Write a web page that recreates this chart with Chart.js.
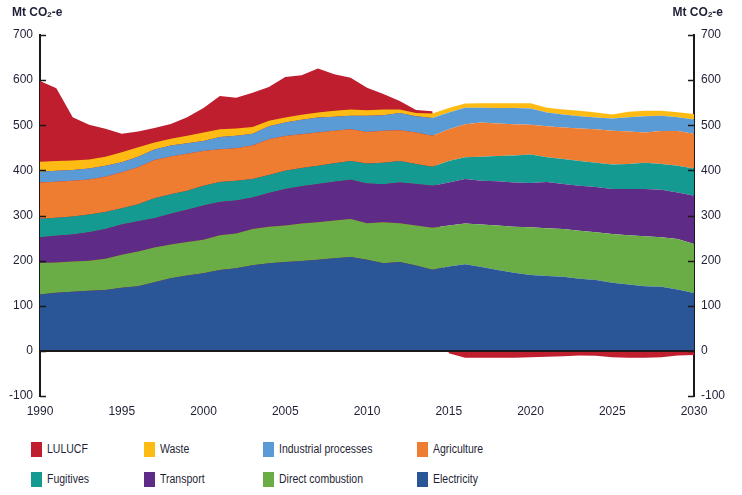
<!DOCTYPE html>
<html>
<head>
<meta charset="utf-8">
<script src="https://cdn.jsdelivr.net/npm/chart.js@4.4.1/dist/chart.umd.min.js"></script>
<style>
  html, body { margin: 0; padding: 0; background: #fff; }
  #wrap { position: relative; width: 742px; height: 495px; color: #1f1f36; font-family: 'Liberation Sans', Arial, sans-serif; }
  #chart-box { position: absolute; left: 0; top: 0; width: 742px; height: 425px; }
  .unit { position: absolute; top: 5px; font-weight: bold; font-size: 12px; white-space: nowrap; }
  .unit sub { font-size: 8px; vertical-align: -1px; }
  .legend-item { position: absolute; height: 15px; line-height: 15px; font-size: 12.5px; white-space: nowrap; }
  .legend-color-box { display: inline-block; width: 11px; height: 15px; vertical-align: top; margin-right: 5px; }
  .legend-text { display: inline-block; vertical-align: top; transform: scaleX(0.84); transform-origin: left center; }
</style>
</head>
<body>
<div id="wrap">
  <div id="chart-box"><canvas id="emissions-chart"></canvas></div>
  <div class="unit" style="left:12px;">Mt CO<sub>2</sub>-e</div>
  <div class="unit" style="right:19px;">Mt CO<sub>2</sub>-e</div>
  <div id="legend"></div>
</div>
<script>
// --- DATA ---
const years = [1990, 1991, 1992, 1993, 1994, 1995, 1996, 1997, 1998, 1999, 2000,
  2001, 2002, 2003, 2004, 2005, 2006, 2007, 2008, 2009, 2010,
  2011, 2012, 2013, 2014, 2015, 2016, 2017, 2018, 2019, 2020,
  2021, 2022, 2023, 2024, 2025, 2026, 2027, 2028, 2029, 2030];

const electricity = [125, 129, 131, 133, 135, 140, 143, 152, 161, 167, 172,
  179, 183, 190, 194, 197, 199, 202, 205, 208, 202,
  194, 197, 189, 180, 187, 192, 186, 179, 173, 168,
  166, 164, 160, 157, 151, 147, 143, 142, 136, 128];
const directCombustion = [70, 67, 67, 67, 69, 73, 77, 77, 75, 74, 74,
  77, 77, 80, 81, 81, 83, 83, 84, 84, 81,
  91, 86, 89, 93, 91, 90, 94, 99, 102, 106,
  106, 106, 106, 106, 108, 109, 111, 110, 112, 109];
const transport = [57, 59, 60, 63, 66, 67, 67, 65, 68, 72, 76,
  74, 73, 70, 75, 81, 83, 85, 86, 87, 88,
  84, 90, 92, 93, 95, 99, 97, 98, 98, 98,
  102, 100, 100, 100, 100, 103, 105, 105, 103, 107];
const fugitives = [41, 40, 40, 39, 38, 36, 38, 44, 43, 42, 44,
  44, 44, 41, 40, 40, 40, 40, 41, 42, 44,
  48, 48, 44, 42, 48, 48, 53, 56, 60, 63,
  55, 55, 55, 54, 54, 55, 58, 57, 59, 60];
const agriculture = [80, 80, 79, 78, 78, 80, 82, 85, 84, 82, 77,
  73, 72, 74, 79, 77, 75, 74, 72, 70, 70,
  71, 68, 70, 69, 70, 73, 76, 72, 69, 66,
  69, 70, 72, 74, 75, 72, 67, 73, 77, 77];
const industrial = [24, 24, 24, 24, 24, 22, 23, 23, 24, 23, 22,
  27, 28, 26, 29, 30, 32, 33, 31, 30, 36,
  34, 38, 36, 39, 37, 37, 33, 34, 36, 36,
  30, 29, 27, 26, 27, 32, 36, 34, 31, 32];
const waste = [22, 22, 21, 20, 20, 22, 21, 16, 15, 17, 19,
  17, 16, 15, 12, 11, 11, 11, 13, 14, 12,
  13, 8, 7, 10, 10, 9, 10, 11, 11, 12,
  11, 11, 12, 11, 9, 12, 12, 11, 11, 12];
const lulucf = [179, 161, 96, 77, 62, 41, 35, 32, 33, 41, 54,
  74, 68, 76, 75, 90, 88, 98, 81, 70, 50,
  34, 19, 7, 5, -5, -15, -15, -15, -15, -14,
  -13, -12, -10, -11, -14, -15, -15, -14, -10, -9];

const yTicks = [-100, 0, 100, 200, 300, 400, 500, 600, 700];

// bottom of stack first
const series = [
  { label: 'Electricity', data: electricity, color: '#2a5597' },
  { label: 'Direct combustion', data: directCombustion, color: '#6aad46' },
  { label: 'Transport', data: transport, color: '#5e2b86' },
  { label: 'Fugitives', data: fugitives, color: '#159a92' },
  { label: 'Agriculture', data: agriculture, color: '#ee7d31' },
  { label: 'Industrial processes', data: industrial, color: '#5b9bd5' },
  { label: 'Waste', data: waste, color: '#fdbb14' },
  { label: 'LULUCF', data: lulucf, color: '#be1e2d' }
];

const tickFont = { family: "'Liberation Sans', Arial, sans-serif", size: 12 };
const tickColor = '#1f1f36';

// inside tick marks + zero line
const axisMarks = {
  id: 'axisMarks',
  afterDraw(chart) {
    const { ctx, chartArea, scales } = chart;
    const y = scales.y;
    ctx.save();
    ctx.strokeStyle = '#1a1a1a';
    ctx.lineWidth = 2;
    const y0 = Math.round(y.getPixelForValue(0));
    ctx.beginPath();
    ctx.moveTo(chartArea.left, y0);
    ctx.lineTo(chartArea.right, y0);
    ctx.stroke();
    ctx.lineWidth = 1.5;
    yTicks.forEach(v => {
      const py = Math.round(y.getPixelForValue(v)) + 0.5;
      ctx.beginPath();
      ctx.moveTo(chartArea.left, py);
      ctx.lineTo(chartArea.left + 6, py);
      ctx.moveTo(chartArea.right - 6, py);
      ctx.lineTo(chartArea.right, py);
      ctx.stroke();
    });
    ctx.restore();
  }
};

const yAxisBase = {
  min: -100,
  max: 700,
  grid: { display: false, drawTicks: false },
  border: { display: true, color: '#1a1a1a', width: 2 },
  ticks: { stepSize: 100, color: tickColor, font: tickFont, padding: 7 }
};

const ctx = document.getElementById('emissions-chart').getContext('2d');
new Chart(ctx, {
  type: 'line',
  data: {
    labels: years,
    datasets: series.map((s, i) => ({
      label: s.label,
      data: s.data,
      backgroundColor: s.color,
      borderColor: s.color,
      borderWidth: 0,
      pointRadius: 0,
      tension: 0,
      // LULUCF goes negative, so fill it from zero and let the others paint over it
      fill: i === 0 || s.label === 'LULUCF' ? 'origin' : '-1'
    }))
  },
  options: {
    responsive: true,
    maintainAspectRatio: false,
    animation: false,
    layout: { padding: { top: 35, left: 0, right: 0, bottom: 0 } },
    plugins: { legend: { display: false }, tooltip: { enabled: false } },
    scales: {
      x: {
        offset: false,
        grid: { display: false, drawTicks: false },
        border: { display: false },
        ticks: {
          autoSkip: false,
          maxRotation: 0,
          color: tickColor,
          font: tickFont,
          padding: 8,
          callback: (val, i) => (years[i] % 5 === 0 ? String(years[i]) : '')
        },
        afterFit: (scale) => { scale.height = 29; }
      },
      y: Object.assign({}, yAxisBase, {
        stacked: true,
        position: 'left',
        afterFit: (scale) => { scale.width = 40; }
      }),
      y2: Object.assign({}, yAxisBase, {
        position: 'right',
        afterFit: (scale) => { scale.width = 48; }
      })
    }
  },
  plugins: [axisMarks]
});

// --- LEGEND (4 columns x 2 rows, top of stack first) ---
const legendCols = [31, 144, 263, 417];
const legendRows = [442, 472];
const legendEl = document.getElementById('legend');
series.slice().reverse().forEach((s, i) => {
  const item = document.createElement('div');
  item.className = 'legend-item';
  item.style.left = legendCols[i % 4] + 'px';
  item.style.top = legendRows[Math.floor(i / 4)] + 'px';
  item.innerHTML = `<span class="legend-color-box" style="background-color: ${s.color};"></span><span class="legend-text">${s.label}</span>`;
  legendEl.appendChild(item);
});
</script>
</body>
</html>
